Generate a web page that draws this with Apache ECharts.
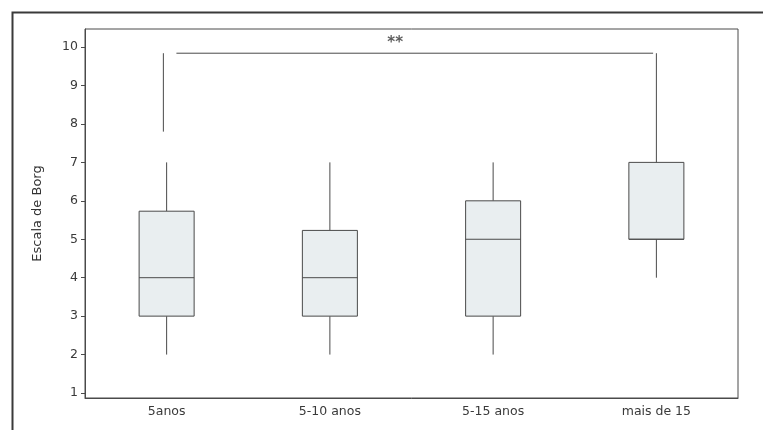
<!DOCTYPE html>
<html>
<head>
<meta charset="utf-8">
<script src="https://cdn.jsdelivr.net/npm/echarts@6/dist/echarts.min.js"></script>
<style>html,body{margin:0;padding:0;background:#fff}#c{width:763px;height:430px}</style>
</head>
<body>
<div id="c"></div>
<script>
const categories = ['5anos', '5-10 anos', '5-15 anos', 'mais de 15'];
// [min, Q1, median, Q3, max]
const boxValues = [
  [2, 3, 4, 5.73, 7],
  [2, 3, 4, 5.23, 7],
  [2, 3, 5, 6, 7],
  [4, 5, 5, 7, 7]
];
const yTicks = [1, 2, 3, 4, 5, 6, 7, 8, 9, 10];
const bracketLeftLeg = [[-0.02, 7.8], [-0.02, 9.84]];
const bracketTop = [[0.06, 9.84], [2.98, 9.84]];
const bracketRightLeg = [[3.0, 9.84], [3.0, 7]];
const starPoint = [[1.4, 10.1]];
const starText = '**';
const yTitle = 'Escala de Borg';

const chart = echarts.init(document.getElementById('c'));
const lineColor = '#4a4a4a';
const txtColor = '#3a3a3a';
const font = 'DejaVu Sans';

const customData = boxValues.map((v, i) => [i].concat(v));

const option = {
  animation: false,
  backgroundColor: '#fff',
  graphic: [{
    type: 'rect', left: 10, top: 10, z: 100,
    shape: { width: 800, height: 500 },
    style: { fill: 'none', stroke: '#3a3a3a', lineWidth: 2 }
  }],
  grid: { left: 85, top: 29, right: 25, bottom: 32, show: true, borderColor: lineColor, borderWidth: 1 },
  xAxis: [{
    type: 'category', data: categories, boundaryGap: true,
    axisLine: { onZero: false, lineStyle: { color: lineColor } },
    axisTick: { alignWithLabel: true, length: 4, lineStyle: { color: lineColor } },
    axisLabel: { color: txtColor, fontFamily: font, fontSize: 12.5, margin: 7 }
  }, {
    type: 'value', min: -0.5, max: 3.5, show: false
  }],
  yAxis: {
    type: 'value', min: 0.87, max: 10.47,
    name: yTitle, nameLocation: 'middle', nameGap: 41, nameRotate: 90,
    nameTextStyle: { color: '#333', fontFamily: font, fontSize: 13 },
    axisLine: { show: true, onZero: false, lineStyle: { color: lineColor } },
    axisTick: { show: true, length: 4, customValues: yTicks, lineStyle: { color: lineColor } },
    axisLabel: { color: txtColor, fontFamily: font, fontSize: 12.5, margin: 7, customValues: yTicks },
    splitLine: { show: false }
  },
  series: [{
    type: 'custom',
    xAxisIndex: 0,
    data: customData,
    renderItem: function (params, api) {
      const idx = api.value(0);
      const mn = api.coord([idx, api.value(1)]);
      const q1 = api.coord([idx, api.value(2)]);
      const md = api.coord([idx, api.value(3)]);
      const q3 = api.coord([idx, api.value(4)]);
      const mx = api.coord([idx, api.value(5)]);
      const w = api.size([1, 0])[0] * 0.337;
      const x = mn[0];
      const ls = { stroke: lineColor, lineWidth: 1 };
      return {
        type: 'group',
        children: [
          { type: 'line', shape: { x1: x, y1: mn[1], x2: x, y2: q1[1] }, style: ls },
          { type: 'line', shape: { x1: x, y1: q3[1], x2: x, y2: mx[1] }, style: ls },
          { type: 'rect', shape: { x: x - w / 2, y: q3[1], width: w, height: q1[1] - q3[1] },
            style: { fill: '#e9eef0', stroke: lineColor, lineWidth: 1 } },
          { type: 'line', shape: { x1: x - w / 2, y1: md[1], x2: x + w / 2, y2: md[1] }, style: ls }
        ]
      };
    }
  }, {
    type: 'line', xAxisIndex: 1, data: bracketLeftLeg, symbol: 'none',
    lineStyle: { color: lineColor, width: 1 }
  }, {
    type: 'line', xAxisIndex: 1, data: bracketTop, symbol: 'none',
    lineStyle: { color: lineColor, width: 1 }
  }, {
    type: 'line', xAxisIndex: 1, data: bracketRightLeg, symbol: 'none',
    lineStyle: { color: lineColor, width: 1 }
  }, {
    type: 'scatter', xAxisIndex: 1, data: starPoint, symbolSize: 1,
    itemStyle: { color: 'rgba(0,0,0,0)' },
    label: { show: true, position: 'inside', formatter: starText, color: '#333',
      fontFamily: font, fontSize: 15, fontWeight: 'bold' }
  }]
};
chart.setOption(option);
</script>
</body>
</html>
